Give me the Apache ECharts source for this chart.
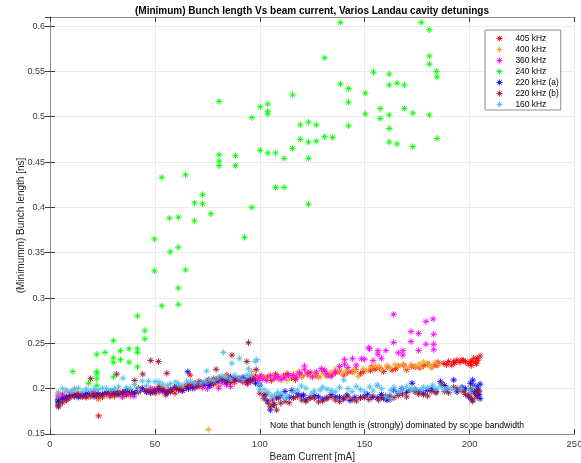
<!DOCTYPE html>
<html><head><meta charset="utf-8">
<script src="https://cdn.jsdelivr.net/npm/echarts@6/dist/echarts.min.js"></script>
<style>html,body{margin:0;padding:0;background:#fff}#c{width:581px;height:463px}</style>
</head><body><div id="c"></div>
<script>
const legendNames = ['405 kHz','400 kHz','360 kHz','240 kHz','220 kHz (a)','220 kHz (b)','160 kHz'];
const colors = ['#ff0000','#f0a830','#ff00ff','#00ff00','#0000ff','#a2142f','#4dbeee'];
const xTicks = [0,50,100,150,200,250];
const yTicks = [0.15,0.2,0.25,0.3,0.35,0.4,0.45,0.5,0.55,0.6];

const s405 = [[4,0.185],[4,0.188],[7.8,0.191],[7.8,0.1875],[11.5,0.192],[15.3,0.193],[19.2,0.1915],[23,0.193],[23,0.189],[23.2,0.170],[27.1,0.194],[31,0.1965],[31,0.193],[34.8,0.195],[38.6,0.196],[42.4,0.1985],[46.3,0.197],[50.1,0.195],[50.1,0.1985],[53.9,0.2],[55.2,0.193],[57.8,0.1985],[59.6,0.195],[61.6,0.2],[65.4,0.204],[66.8,0.215],[69.2,0.206],[73.1,0.205],[75.5,0.2096],[76.9,0.207],[79.2,0.2103],[80.7,0.212],[84.3,0.215],[84.5,0.209],[88.3,0.211],[92.2,0.21],[96,0.212],[99.8,0.211],[101,0.214],[103.6,0.213],[105.5,0.209],[107.5,0.216],[111.3,0.214],[115.1,0.212],[118.9,0.2175],[120,0.214],[122.7,0.216],[126.6,0.215],[130.4,0.219],[132,0.214],[134.2,0.215],[138,0.219],[141.9,0.218],[145.7,0.221],[149.5,0.219],[152.7,0.22],[153.3,0.224],[157.1,0.223],[159,0.219],[161,0.224],[164.8,0.222],[168.6,0.226],[170,0.221],[172.4,0.225],[176.3,0.223],[180.1,0.227],[183.9,0.2265],[184.5,0.226],[185,0.229],[187.7,0.228],[190,0.23],[191.5,0.226],[192.4,0.2297],[193,0.2285],[195.4,0.229],[196.4,0.2316],[197,0.231],[199.2,0.2275],[200.4,0.2297],[201,0.23],[202,0.2335],[203,0.229],[203.6,0.2335],[204,0.2315],[205,0.236],
  [6,0.19],[13,0.1945],[21,0.195],[29,0.192],[36,0.197],[44,0.2],[52,0.1965],[63,0.202],[71,0.208],[78,0.211],[86,0.213],[94,0.2085],[98,0.214],[109,0.212],[113,0.2165],[117,0.21],[124,0.218],[128,0.213],[136,0.2175],[140,0.215],[144,0.2185],[148,0.2165],[155,0.2215],[163,0.2205],[166,0.225],[174,0.224],[178,0.2255],[182,0.224],[189,0.2265],[194,0.2315],[198,0.23],[200.8,0.2255],[203.2,0.2275]];

const s400 = [[4,0.196],[4,0.193],[7.8,0.1965],[11.6,0.2],[15.4,0.192],[19.2,0.191],[23,0.19],[26.9,0.192],[30.7,0.191],[31,0.1955],[34.6,0.191],[38.4,0.192],[42.2,0.1955],[46,0.196],[49.9,0.197],[53.7,0.1975],[57.5,0.196],[61.3,0.199],[65.1,0.2],[69,0.2015],[72.8,0.2005],[75.5,0.155],[76.6,0.203],[80.4,0.2035],[84.2,0.2045],[88,0.2055],[91.9,0.207],[95.7,0.208],[96.2,0.2188],[99.5,0.2095],[101,0.212],[103.3,0.211],[107.1,0.2115],[110.9,0.213],[113,0.209],[114.8,0.214],[118.6,0.219],[120,0.213],[122.4,0.2155],[126.2,0.216],[128,0.2125],[130,0.217],[133.9,0.2185],[137.7,0.2195],[141.5,0.2205],[145,0.218],[145.3,0.2215],[147,0.2135],[149.2,0.222],[153,0.2235],[156.8,0.2245],[160.6,0.2255],[162,0.2225],[164.4,0.2265],[168.3,0.227],[170,0.223],[172.1,0.2265],[175.9,0.2275],[177,0.2235],[179.7,0.228],[181,0.225],[183.5,0.229],[185,0.2265],
  [6,0.194],[9.5,0.1925],[17,0.1955],[25,0.1945],[33,0.1935],[40,0.1955],[48,0.1985],[56,0.2],[64,0.2025],[68,0.1995],[79,0.206],[87,0.209],[93,0.211],[98,0.2105],[105,0.2145],[109,0.21],[116,0.2165],[124,0.2135],[132,0.215],[136,0.2215],[140,0.2175],[151,0.2205],[155,0.2255],[158,0.221],[166,0.2245],[174,0.2245],[178,0.2295],[182,0.2235]];

const s360 = [[4,0.189],[4,0.192],[7.8,0.1905],[11.6,0.1915],[15.4,0.193],[19.2,0.1955],[23,0.194],[26.9,0.1955],[30.7,0.1945],[34.6,0.191],[38.4,0.1935],[42.2,0.1985],[46,0.1965],[49.9,0.198],[53.7,0.1975],[57.5,0.199],[61.3,0.2],[65.1,0.2015],[69,0.2005],[72.8,0.202],[76.6,0.2035],[80.4,0.2005],[84.2,0.2045],[88,0.2075],[91.9,0.208],[95.7,0.2085],[99.5,0.209],[100,0.2135],[103.3,0.209],[105,0.2145],[107.1,0.2115],[110.2,0.21],[112,0.212],[113.7,0.215],[116,0.2145],[117.5,0.2125],[121.3,0.225],[121.3,0.221],[125.1,0.213],[129.3,0.222],[132,0.2165],[136,0.2185],[140.4,0.232],[140.4,0.227],[144.2,0.233],[148.4,0.233],[151.9,0.245],[152.3,0.244],[156.3,0.242],[156.3,0.238],[160.1,0.242],[163.8,0.282],[163.8,0.251],[168.2,0.242],[168.2,0.237],[172.1,0.263],[172.1,0.252],[175.7,0.261],[175.7,0.242],[179.2,0.274],[179.2,0.249],[182.6,0.277],[182.9,0.26],[182.9,0.249],[182.9,0.243],
  [6,0.1935],[10,0.196],[17,0.1915],[21,0.196],[28.5,0.192],[36.5,0.1955],[40,0.1915],[48,0.2005],[55.5,0.195],[63,0.1975],[67,0.204],[75,0.2],[82,0.206],[86,0.2025],[90,0.2105],[94,0.205],[97.5,0.211],[101.5,0.2105],[108.5,0.2135],[119,0.217],[123,0.217],[127,0.2185],[131,0.2205],[134,0.2135],[138,0.2245],[142,0.2235],[146,0.226],[150,0.2325],[154,0.231],[158,0.2335],[166,0.2395]];

const s240 = [[3.8,0.187],[10.9,0.219],[18.4,0.206],[22.3,0.238],[22.3,0.219],[22.3,0.216],[22.3,0.211],[22.3,0.2035],[26.2,0.240],[30.2,0.253],[30.2,0.234],[30.2,0.229],[30.2,0.213],[33.6,0.242],[33.6,0.232],[37.7,0.244],[37.7,0.229],[41.7,0.280],[41.7,0.244],[41.7,0.240],[41.7,0.224],[45.2,0.264],[45.2,0.255],[49.8,0.365],[49.8,0.330],[53.3,0.433],[53.3,0.2915],[56.9,0.388],[57.3,0.351],[61.2,0.389],[61.2,0.356],[61.2,0.311],[61.2,0.293],[64.6,0.436],[64.6,0.331],[68.9,0.405],[68.9,0.385],[72.7,0.414],[72.7,0.404],[76.7,0.393],[80.6,0.517],[80.6,0.458],[80.6,0.451],[80.6,0.446],[88.4,0.457],[88.4,0.446],[92.7,0.367],[96.2,0.499],[96.2,0.400],[100.2,0.511],[100.2,0.463],[103.8,0.514],[103.8,0.506],[103.8,0.503],[103.8,0.460],[107.5,0.460],[107.5,0.422],[111.6,0.454],[111.6,0.422],[115.6,0.524],[115.6,0.465],[119.3,0.491],[119.3,0.475],[123.2,0.494],[123.2,0.472],[123.2,0.454],[123.2,0.4034],[126.9,0.491],[126.9,0.473],[130.9,0.565],[130.9,0.478],[134.7,0.477],[138.4,0.604],[138.4,0.536],[142.3,0.531],[142.3,0.516],[142.3,0.490],[150.3,0.526],[150.3,0.503],[154.2,0.549],[157.4,0.509],[157.4,0.498],[161.7,0.547],[161.7,0.535],[161.7,0.502],[161.7,0.487],[161.7,0.472],[165.4,0.537],[165.4,0.470],[168.9,0.535],[168.9,0.509],[172.9,0.504],[172.9,0.467],[177,0.604],[180.8,0.596],[180.8,0.567],[180.8,0.558],[180.8,0.502],[184.2,0.550],[184.5,0.544],[184.5,0.476]];

const s220a = [[4,0.181],[4,0.186],[7.8,0.19],[11.6,0.193],[15.4,0.193],[19.2,0.195],[23,0.194],[26.9,0.196],[30.7,0.195],[34.6,0.196],[38.4,0.197],[42.2,0.198],[46,0.197],[49.9,0.197],[53.7,0.198],[57.5,0.197],[61.3,0.199],[65.7,0.2187],[66,0.2],[70,0.203],[74,0.205],[78,0.207],[82,0.21],[86,0.212],[90,0.21],[94,0.209],[98,0.206],[100,0.204],[102,0.193],[105,0.1765],[108,0.19],[112,0.197],[115.3,0.198],[116,0.19],[120,0.192],[120.9,0.193],[124,0.19],[128,0.191],[132,0.19],[136,0.191],[140,0.1885],[141.5,0.193],[145.3,0.1904],[148,0.19],[151.4,0.194],[153.5,0.1904],[156,0.19],[159,0.1893],[160.6,0.1875],[163.8,0.1985],[167.8,0.2],[172.6,0.206],[176,0.197],[180,0.198],[184,0.197],[186.1,0.2077],[189.3,0.199],[192.4,0.2096],[196.4,0.2015],[199.6,0.191],[200.4,0.206],[200.8,0.198],[201.2,0.1875],[202,0.2035],[202.4,0.195],[203.6,0.202],[203.6,0.193],[204.2,0.1985],[205,0.189],[205,0.205],
  [6,0.1885],[9.5,0.1925],[13.5,0.1905],[17.3,0.1945],[21,0.1915],[25,0.1935],[29,0.197],[32.5,0.1935],[36.5,0.199],[40.3,0.195],[44,0.2],[48,0.1955],[51.8,0.2],[55.6,0.1955],[59.4,0.2015],[63.2,0.198],[68,0.2015],[72,0.2065],[76,0.2035],[80,0.2085],[84,0.2075],[88,0.2105],[92,0.2125],[96,0.211],[103.5,0.1865],[106.5,0.182],[110,0.192],[114,0.1905],[118,0.1945],[122,0.1875],[126,0.1925],[130,0.1885],[134,0.1935],[138,0.1905],[143,0.187],[150,0.192],[158,0.1935],[162,0.1915],[166,0.195],[170,0.196],[174,0.199],[178,0.195],[182,0.2],[188,0.2035],[194,0.1965],[198,0.2],[201.5,0.2095],[203,0.1975],[204.5,0.1935]];

const s220b = [[4,0.180],[4,0.183],[7.8,0.1875],[11.6,0.192],[15.4,0.191],[19.2,0.193],[19.4,0.211],[23,0.192],[26.9,0.195],[30.7,0.193],[31.8,0.216],[34.6,0.195],[38.4,0.196],[40.4,0.209],[42.2,0.197],[44.2,0.216],[46,0.1985],[48,0.231],[49.9,0.199],[51.7,0.230],[53.7,0.199],[55.7,0.217],[57.5,0.198],[61.3,0.2],[65.1,0.2025],[69,0.204],[72.8,0.206],[76.6,0.207],[79.2,0.2213],[80.4,0.21],[84.2,0.209],[86.7,0.237],[88,0.21],[91.9,0.209],[93.8,0.230],[94.6,0.2507],[95.7,0.208],[98.3,0.221],[102,0.189],[104,0.184],[106,0.1875],[108,0.1765],[110,0.184],[112,0.186],[116,0.19],[120,0.1875],[124,0.19],[128,0.1855],[132,0.189],[136,0.1875],[140,0.19],[144,0.188],[148,0.19],[152,0.188],[156.6,0.1875],[160,0.192],[164,0.19],[168,0.194],[171.7,0.1985],[175.7,0.194],[180,0.192],[184,0.1955],[186.8,0.205],[188,0.197],[192.4,0.2015],[196,0.1985],[197.2,0.1967],[199.6,0.193],[200.5,0.2],[201,0.189],[202.8,0.195],[203.5,0.1905],[204.5,0.197],
  [6,0.1845],[9.5,0.19],[13.5,0.1935],[17.3,0.1905],[21,0.1935],[25,0.191],[29,0.194],[32.5,0.1965],[36.5,0.193],[42.2,0.2005],[48,0.1965],[52,0.2025],[56,0.1965],[60,0.2015],[63,0.1985],[67,0.205],[71,0.2025],[75,0.2085],[78,0.205],[82,0.2115],[86,0.207],[90,0.2115],[94,0.2065],[97,0.2105],[100,0.195],[103,0.1935],[105,0.18],[107,0.1825],[109,0.1895],[114,0.1845],[118,0.1915],[122,0.186],[126,0.1895],[130,0.1865],[134,0.191],[138,0.186],[142,0.1915],[146,0.1865],[150,0.1905],[154,0.1915],[158,0.19],[162,0.188],[166,0.1925],[170,0.191],[174,0.1965],[178,0.1935],[182,0.197],[190,0.1955],[194,0.2],[198,0.1935],[201.5,0.186],[203,0.2005]];

const s160 = [[4,0.195],[7.8,0.1985],[11.6,0.199],[15.4,0.197],[19.2,0.1975],[23,0.199],[26.9,0.2],[30.7,0.2],[34.8,0.2115],[38.4,0.2],[42.2,0.199],[44,0.2085],[47,0.208],[50.1,0.2077],[53.7,0.205],[57.5,0.2055],[61.3,0.205],[65.1,0.2075],[69,0.206],[74.7,0.2195],[74,0.208],[78,0.209],[82.7,0.240],[82,0.214],[86.7,0.228],[86,0.211],[90.3,0.2335],[90,0.212],[94.6,0.222],[94,0.215],[97.8,0.23],[98.6,0.232],[100,0.205],[102,0.199],[104,0.196],[107,0.193],[110,0.1945],[113,0.192],[116,0.196],[119.8,0.203],[124.8,0.195],[128.8,0.1985],[132,0.1995],[136,0.1967],[140,0.2096],[144,0.1967],[148,0.199],[152.4,0.202],[155.9,0.204],[156.2,0.2033],[160.1,0.191],[162.5,0.1978],[162.5,0.189],[168,0.2],[172,0.199],[176.8,0.199],[180,0.201],[182.4,0.204],[184,0.2],[188,0.199],[192,0.1995],[200,0.198],
  [6,0.2],[10,0.1965],[13.5,0.2005],[17.3,0.1995],[21,0.2],[25,0.2005],[29,0.1985],[32.7,0.202],[36.5,0.201],[40.3,0.2045],[46,0.203],[52,0.2075],[56,0.2035],[60,0.2075],[63,0.2035],[67,0.2085],[72,0.2065],[76,0.21],[80,0.212],[84,0.213],[88,0.215],[92,0.21],[96,0.2145],[100,0.199],[105.5,0.1915],[108.5,0.196],[111.5,0.189],[118,0.1985],[122,0.2005],[126,0.1975],[130,0.2015],[134,0.198],[138,0.2015],[142,0.2],[146,0.2025],[150,0.1965],[154,0.1975],[158,0.2],[164,0.2015],[166,0.196],[170,0.2025],[174,0.1995],[178,0.2015],[186,0.2025],[190,0.2005],[196,0.2],[202,0.2015]];

const seriesData = [s405,s400,s360,s240,s220a,s220b,s160];
const asterisk = 'path://M5,0L5,10M0,5L10,5M1.6,1.6L8.4,8.4M1.6,8.4L8.4,1.6';

const chart = echarts.init(document.getElementById('c'), null, {renderer:'canvas'});
const axisCol = '#8c8c8c';
const lblCol = '#404040';
const font = 'Liberation Sans, Arial, sans-serif';
const baseX = {type:'value', min:xTicks[0], max:xTicks[xTicks.length-1], interval:50};
const baseY = {type:'value', min:yTicks[0], max:0.61, interval:0.05};
chart.setOption({
  backgroundColor:'#fff',
  animation:false,
  textStyle:{fontFamily:font},
  grid:{left:50, right:6.5, top:17, bottom:29, containLabel:false, outerBoundsMode:'none'},
  xAxis:[
    Object.assign({}, baseX, {position:'bottom', name:'Beam Current [mA]', nameLocation:'middle', nameGap:18, nameMoveOverlap:false,
      nameTextStyle:{color:'#262626', fontSize:10, fontFamily:font},
      axisLine:{show:true, lineStyle:{color:axisCol, width:1}},
      axisTick:{show:true, inside:true, length:5, lineStyle:{color:'#404040'}},
      axisLabel:{color:lblCol, fontSize:9.5, margin:5, fontFamily:font},
      splitLine:{show:true, lineStyle:{color:'#ebebeb', width:1}}}),
    Object.assign({}, baseX, {position:'top',
      axisLine:{show:true, lineStyle:{color:axisCol, width:1}},
      axisTick:{show:true, inside:true, length:5, lineStyle:{color:'#404040'}},
      axisLabel:{show:false}, splitLine:{show:false}})
  ],
  yAxis:[
    Object.assign({}, baseY, {position:'left', name:'(Minimumm) Bunch length [ns]', nameLocation:'middle', nameGap:24, nameMoveOverlap:false,
      nameTextStyle:{color:'#262626', fontSize:10, fontFamily:font},
      axisLine:{show:true, lineStyle:{color:axisCol, width:1}},
      axisTick:{show:true, inside:true, length:5, lineStyle:{color:'#404040'}},
      axisLabel:{color:lblCol, fontSize:9, margin:5, showMaxLabel:false, fontFamily:font},
      splitLine:{show:true, lineStyle:{color:'#ebebeb', width:1}}}),
    Object.assign({}, baseY, {position:'right',
      axisLine:{show:true, lineStyle:{color:axisCol, width:1}},
      axisTick:{show:true, inside:true, length:5, lineStyle:{color:'#404040'}},
      axisLabel:{show:false}, splitLine:{show:false}})
  ],
  legend:{
    orient:'vertical', left:485, top:30,
    data:legendNames.map((n,i)=>({name:n, icon:asterisk, itemStyle:{color:'rgba(0,0,0,0)', borderColor:colors[i], borderWidth:0.9}})),
    itemWidth:6, itemHeight:6, itemGap:2, padding:[4,2,1,11],
    backgroundColor:'#fff', borderColor:'#8c8c8c', borderWidth:1, borderRadius:0,
    textStyle:{color:'#000', fontSize:8.4, lineHeight:9, fontFamily:font, padding:[0,0,0,8]}
  },
  graphic:[
    {type:'text', x:312, y:6, style:{text:'(Minimum) Bunch length Vs beam current, Varios Landau cavity detunings', fill:'#000', font:'bold 10px '+font, textAlign:'center', textVerticalAlign:'top'}, silent:true},
    {type:'text', x:270, y:421, style:{text:'Note that bunch length is (strongly) dominated by scope bandwidth', fill:'#000', font:'8.6px '+font, textAlign:'left', textVerticalAlign:'top'}, silent:true}
  ],
  series: seriesData.map((d,i)=>({
    name:legendNames[i], type:'scatter', data:d, symbol:asterisk, symbolSize:6.5,
    xAxisIndex:0, yAxisIndex:0,
    itemStyle:{color:'rgba(0,0,0,0)', borderColor:colors[i], borderWidth:0.9, opacity:1},
    emphasis:{disabled:true}
  }))
});
</script></body></html>
